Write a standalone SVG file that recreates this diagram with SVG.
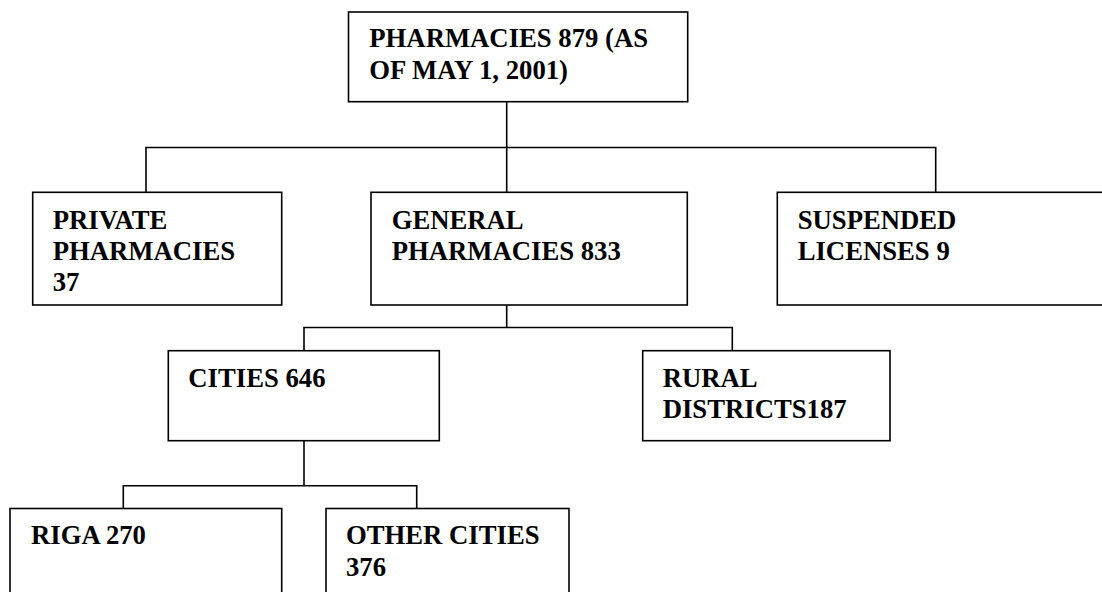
<svg xmlns="http://www.w3.org/2000/svg" width="1102" height="592" viewBox="0 0 1102 592">
<style>
.box{fill:#fff;stroke:#000;stroke-width:1.6}
.ln{fill:none;stroke:#000;stroke-width:1.6}
.t{font-family:"Liberation Serif","Times New Roman",serif;font-weight:bold;font-size:26.7px;fill:#000}
</style>
<rect width="1102" height="592" fill="#fff"/>
<g id="connectors">
<path class="ln" d="M506.7,101.7V147.5M146,192.3V147.5H935.7V192.3M506.7,147.5V192.3"/>
<path class="ln" d="M506.7,305V327.5M304,350.7V327.5H732.3V350.7"/>
<path class="ln" d="M304,440.7V485.7M123.3,508.5V485.7H416.7V508.5"/>
</g>
<g id="n-root">
<rect class="box" x="348.5" y="12" width="339.2" height="89.7"/>
<text class="t" x="369.3" y="46.7">PHARMACIES 879 (AS</text>
<text class="t" x="369.3" y="79.3">OF MAY 1, 2001)</text>
</g>
<g id="n-private">
<rect class="box" x="32.7" y="192.3" width="249" height="112.7"/>
<text class="t" x="52.7" y="229">PRIVATE</text>
<text class="t" x="52.7" y="260">PHARMACIES</text>
<text class="t" x="52.7" y="291">37</text>
</g>
<g id="n-general">
<rect class="box" x="371" y="192.3" width="316.3" height="112.7"/>
<text class="t" x="391.7" y="229">GENERAL</text>
<text class="t" x="391.7" y="260">PHARMACIES 833</text>
</g>
<g id="n-suspended">
<rect class="box" x="777.3" y="192.3" width="330" height="112.7"/>
<text class="t" x="797.7" y="229">SUSPENDED</text>
<text class="t" x="797.7" y="260">LICENSES 9</text>
</g>
<g id="n-cities">
<rect class="box" x="168.3" y="350.7" width="271" height="90"/>
<text class="t" x="188.3" y="386.7">CITIES 646</text>
</g>
<g id="n-rural">
<rect class="box" x="642.7" y="350.7" width="247.3" height="90"/>
<text class="t" x="662.7" y="386.7">RURAL</text>
<text class="t" x="662.7" y="418">DISTRICTS187</text>
</g>
<g id="n-riga">
<rect class="box" x="10" y="508.5" width="271.7" height="100"/>
<text class="t" x="31" y="544.3">RIGA 270</text>
</g>
<g id="n-other">
<rect class="box" x="326" y="508.5" width="243" height="100"/>
<text class="t" x="346" y="544.3">OTHER CITIES</text>
<text class="t" x="346" y="576">376</text>
</g>
</svg>
